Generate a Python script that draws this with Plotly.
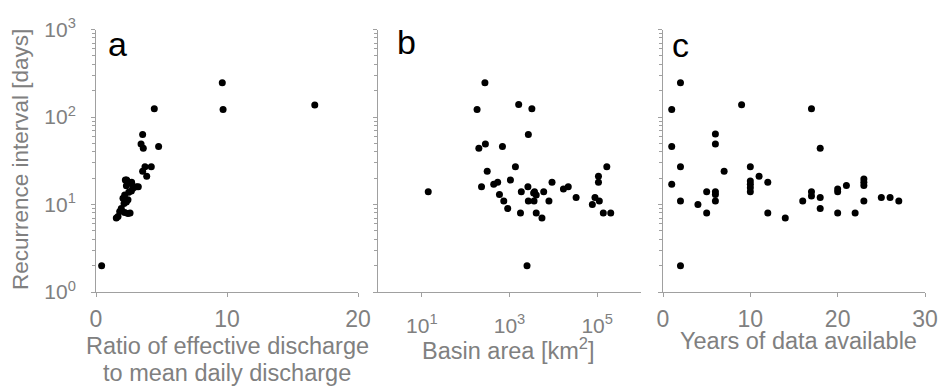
import plotly.graph_objects as go

# ---------------- data ----------------
# panel a: ratio of effective discharge to mean daily discharge
ratio_a = [0.43, 1.55, 1.68, 1.81, 1.93, 2.19, 2.44, 2.60, 2.14, 2.32, 2.44, 2.06, 2.19,
           2.50, 2.70, 2.82, 3.08, 3.23, 2.32, 2.70, 2.44, 2.24, 2.34, 2.72, 3.56, 3.74,
           4.22, 3.87, 3.56, 3.44, 3.61, 4.78, 4.45, 9.64, 9.70, 16.7]
interval_a = [2, 7, 7.3, 8.3, 9.0, 8.1, 7.9, 8.0, 10.3, 10.7, 11.3, 11.8, 12.8,
              13.8, 14.3, 15.3, 16, 16, 16.4, 17.4, 18.2, 19, 19, 18, 24, 27,
              27, 21, 63, 49, 44, 46, 124, 246, 122, 137]

# panel b: basin area [km2]
area_b = [14, 275, 182, 1620, 3240, 2690, 200, 282, 690, 310, 1365, 230, 437, 537,
          1050, 590, 740, 910, 1780, 1860, 2630, 2690, 3720, 4070, 3630, 3550, 4070,
          5500, 6030, 9330, 7940, 2510, 17000, 21900, 33100, 77600, 89100, 112000,
          107000, 107000, 166000, 138000, 204000]
interval_b = [14, 246, 122, 139, 124, 63, 44, 49, 46, 24, 27, 16, 17, 18,
              19, 13, 11, 9, 8, 14, 16, 11, 14, 12.8, 11, 13.5, 8,
              7, 14, 18, 11, 2, 15, 16, 12, 10, 12, 11,
              21, 18, 27, 8, 8]

# panel c: years of data available
years_c = [1, 2, 1, 2, 1, 2, 2, 4, 5, 5, 6, 6, 6, 6, 6, 7, 9, 10, 10, 10, 10, 10, 11,
           12, 12, 14, 16, 17, 17, 17, 18, 18, 18, 20, 20, 20, 21, 22, 23, 23, 23, 23,
           25, 26, 27]
interval_c = [122, 246, 46, 27, 17, 11, 2, 10, 14, 8, 64, 49, 14, 13, 11, 24, 138, 27,
              18.5, 17, 15.5, 14, 21, 18, 8, 7, 11, 124, 14, 12.5, 44, 12, 9, 15, 14, 8,
              16.5, 8, 19.5, 18, 16.5, 11, 12, 12, 11]

panel_letters = ["a", "b", "c"]
x_title_lines = ["Ratio of effective discharge", "to mean daily discharge",
                 "Basin area [km<sup>2</sup>]", "Years of data available"]
y_title = "Recurrence interval [days]"
y_tickvals = [1, 10, 100, 1000]
y_ticktext = ["10<sup>0</sup>", "10<sup>1</sup>", "10<sup>2</sup>", "10<sup>3</sup>"]
b_tickvals = [10, 1000, 100000]
b_ticktext = ["10<sup>1</sup>", "10<sup>3</sup>", "10<sup>5</sup>"]

# ---------------- layout helpers ----------------
W, H = 942, 388
def px(x):
    return x / W
def py(y):
    return 1 - y / H

GREY_TXT = "#808080"
GREY_LINE = "#a0a0a0"
FONT = "Liberation Sans, Arial, sans-serif"

ydom = [py(292), py(29.5)]
minor_y = [m * 10 ** d for d in range(3) for m in range(2, 10)]

fig = go.Figure()
mk = dict(color="black", size=7)
fig.add_trace(go.Scatter(x=ratio_a, y=interval_a, mode="markers", marker=mk, xaxis="x", yaxis="y"))
fig.add_trace(go.Scatter(x=area_b, y=interval_b, mode="markers", marker=mk, xaxis="x2", yaxis="y2"))
fig.add_trace(go.Scatter(x=years_c, y=interval_c, mode="markers", marker=mk, xaxis="x3", yaxis="y3"))

common = dict(showline=True, linecolor=GREY_LINE, linewidth=1, ticks="outside",
              ticklen=4, tickcolor=GREY_LINE, tickwidth=1, showgrid=False,
              zeroline=False, automargin=False)

def tf(size):
    return dict(family=FONT, size=size, color=GREY_TXT)

def yax(anchor, labels):
    d = dict(common, type="log", range=[0, 3], domain=ydom, anchor=anchor,
             tickmode="array", tickvals=y_tickvals, ticktext=y_ticktext,
             showticklabels=labels, ticklabelstandoff=11, tickfont=tf(21),
             minor=dict(tickmode="array", tickvals=minor_y, ticks="outside",
                        ticklen=3, tickcolor=GREY_LINE))
    return d

fig.update_layout(
    width=W, height=H, margin=dict(l=0, r=0, t=0, b=0),
    paper_bgcolor="white", plot_bgcolor="white", showlegend=False,
    xaxis=dict(common, domain=[px(96), px(358)], range=[0, 20], anchor="y",
               tickmode="array", tickvals=[0, 10, 20], ticklabelstandoff=2, tickfont=tf(23)),
    xaxis2=dict(common, type="log", domain=[px(378), px(641)], range=[0, 6], anchor="y2",
                tickmode="array", tickvals=b_tickvals, ticktext=b_ticktext,
                ticklabelstandoff=11, tickfont=tf(21)),
    xaxis3=dict(common, domain=[px(663), px(925)], range=[0, 30], anchor="y3",
                tickmode="array", tickvals=[0, 10, 20, 30], ticklabelstandoff=2, tickfont=tf(23)),
    yaxis=yax("x", True),
    yaxis2=yax("x2", False),
    yaxis3=yax("x3", False),
)

ann = []
# panel letters
for letter, (x, y) in zip(panel_letters, [(117, 44), (406, 42), (680, 45)]):
    ann.append(dict(text=letter, x=px(x), y=py(y), xref="paper", yref="paper",
                    showarrow=False, xanchor="center", yanchor="middle",
                    font=dict(family=FONT, size=34, color="black")))
# x titles
for t, (x, y) in zip(x_title_lines, [(227, 346), (227, 373), (508, 349), (798, 341)]):
    ann.append(dict(text=t, x=px(x), y=py(y), xref="paper", yref="paper",
                    showarrow=False, xanchor="center", yanchor="middle",
                    font=dict(family=FONT, size=23.5, color=GREY_TXT)))
# y title
ann.append(dict(text=y_title, x=px(20), y=py(160), xref="paper", yref="paper",
                showarrow=False, xanchor="center", yanchor="middle", textangle=-90,
                font=dict(family=FONT, size=22.5, color=GREY_TXT)))
fig.update_layout(annotations=ann)

fig.write_html("out.html")
